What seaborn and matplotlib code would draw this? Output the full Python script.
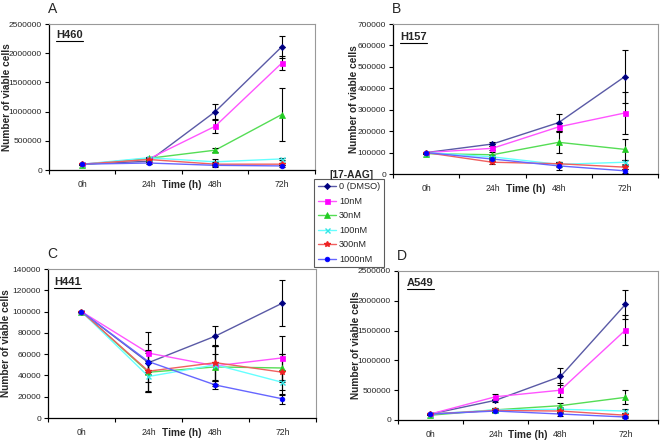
import numpy as np
import pandas as pd
import matplotlib
matplotlib.use("Agg")
import matplotlib.pyplot as plt
import seaborn as sns
from matplotlib.ticker import FixedLocator, FuncFormatter
from matplotlib.lines import Line2D

sns.set_style("white")
plt.rcParams['font.family'] = ['Liberation Sans', 'DejaVu Sans']

times = ["0h", "24h", "48h", "72h"]
series = ["0 (DMSO)", "10nM", "30nM", "100nM", "300nM", "1000nM"]

# Panel A: H460
h460_dmso = [100000, 150000, 1000000, 2110000]
h460_10 = [100000, 190000, 750000, 1830000]
h460_30 = [90000, 200000, 340000, 950000]
h460_100 = [100000, 210000, 140000, 190000]
h460_300 = [100000, 180000, 100000, 100000]
h460_1000 = [100000, 120000, 80000, 70000]
h460_err_dmso = [0, 20000, 130000, 190000]
h460_err_10 = [0, 20000, 110000, 120000]
h460_err_30 = [0, 20000, 40000, 460000]
h460_err_100 = [0, 20000, 50000, 20000]
h460_err_300 = [0, 20000, 30000, 20000]
h460_err_1000 = [0, 20000, 30000, 20000]

# Panel B: H157
h157_dmso = [100000, 140000, 240000, 455000]
h157_10 = [100000, 120000, 220000, 285000]
h157_30 = [95000, 90000, 148000, 115000]
h157_100 = [100000, 80000, 45000, 55000]
h157_300 = [100000, 55000, 48000, 32000]
h157_1000 = [100000, 70000, 38000, 15000]
h157_err_dmso = [0, 10000, 40000, 125000]
h157_err_10 = [0, 10000, 20000, 100000]
h157_err_30 = [0, 15000, 50000, 50000]
h157_err_100 = [0, 10000, 10000, 10000]
h157_err_300 = [0, 10000, 10000, 10000]
h157_err_1000 = [0, 10000, 20000, 10000]

# Panel C: H441
h441_dmso = [100000, 52000, 77000, 108000]
h441_10 = [100000, 61000, 49000, 56500]
h441_30 = [100000, 43000, 48000, 47000]
h441_100 = [100000, 39000, 50000, 33500]
h441_300 = [100000, 44000, 52000, 43000]
h441_1000 = [100000, 53000, 31000, 18000]
h441_err_dmso = [0, 18000, 9000, 22000]
h441_err_10 = [0, 20000, 19000, 21000]
h441_err_30 = [0, 18000, 12000, 13000]
h441_err_100 = [0, 15000, 18000, 12000]
h441_err_300 = [0, 20000, 17000, 17000]
h441_err_1000 = [0, 10000, 4000, 5000]

# Panel D: A549
a549_dmso = [100000, 330000, 730000, 1940000]
a549_10 = [100000, 390000, 500000, 1510000]
a549_30 = [80000, 170000, 240000, 380000]
a549_100 = [100000, 170000, 180000, 150000]
a549_300 = [100000, 160000, 150000, 80000]
a549_1000 = [100000, 150000, 100000, 50000]
a549_err_dmso = [0, 30000, 150000, 240000]
a549_err_10 = [0, 50000, 120000, 250000]
a549_err_30 = [0, 30000, 40000, 120000]
a549_err_100 = [0, 30000, 40000, 30000]
a549_err_300 = [0, 30000, 30000, 30000]
a549_err_1000 = [0, 20000, 30000, 20000]

panels = [
    ("A", "H460", [h460_dmso, h460_10, h460_30, h460_100, h460_300, h460_1000],
     [h460_err_dmso, h460_err_10, h460_err_30, h460_err_100, h460_err_300, h460_err_1000],
     2500000, 500000, [0.0741, 0.6136, 0.4024, 0.3318], -0.139, (0.026, 0.925)),
    ("B", "H157", [h157_dmso, h157_10, h157_30, h157_100, h157_300, h157_1000],
     [h157_err_dmso, h157_err_10, h157_err_30, h157_err_100, h157_err_300, h157_err_1000],
     700000, 100000, [0.5946, 0.6045, 0.4009, 0.3409], -0.128, (0.026, 0.913)),
    ("C", "H441", [h441_dmso, h441_10, h441_30, h441_100, h441_300, h441_1000],
     [h441_err_dmso, h441_err_10, h441_err_30, h441_err_100, h441_err_300, h441_err_1000],
     140000, 20000, [0.0726, 0.05, 0.4054, 0.3386], -0.138, (0.024, 0.913)),
    ("D", "A549", [a549_dmso, a549_10, a549_30, a549_100, a549_300, a549_1000],
     [a549_err_dmso, a549_err_10, a549_err_30, a549_err_100, a549_err_300, a549_err_1000],
     2500000, 500000, [0.6021, 0.0455, 0.3933, 0.3386], -0.142, (0.035, 0.92)),
]

palette = {"0 (DMSO)": "#000080", "10nM": "#FF00FF", "30nM": "#22CC22",
           "100nM": "#33E5E5", "300nM": "#EE2222", "1000nM": "#0000FF"}
line_palette = {"0 (DMSO)": "#5a5aa6", "10nM": "#ff55ff", "30nM": "#55dd55",
                "100nM": "#66ffff", "300nM": "#f06060", "1000nM": "#6666ff"}
markers = {"0 (DMSO)": "D", "10nM": "s", "30nM": "^", "100nM": "x",
           "300nM": "*", "1000nM": "o"}
msizes = {"0 (DMSO)": 3.2, "10nM": 3.6, "30nM": 3.8, "100nM": 3.6,
          "300nM": 4.2, "1000nM": 3.4}

fig = plt.figure(figsize=(6.61, 4.40), dpi=100)

for letter, cell, vals, errs, ymax, ystep, pos, ylx, cellpos in panels:
    ax = fig.add_axes(pos)
    rows = []
    for s, v in zip(series, vals):
        for t, y in zip(times, v):
            rows.append({"time": t, "cells": y, "conc": s})
    df = pd.DataFrame(rows)
    sns.lineplot(data=df, x="time", y="cells", hue="conc", palette=line_palette,
                 sort=False, linewidth=1.0, legend=False, ax=ax, zorder=2)
    for s, v, e in zip(series, vals, errs):
        ax.errorbar(times, v, yerr=e, fmt="none", ecolor="black", elinewidth=0.8,
                    capsize=2.3, capthick=0.8, zorder=3)
        ax.plot(times, v, linestyle="none", marker=markers[s], color=palette[s],
                markersize=msizes[s], markeredgewidth=1.0 if s in ("100nM", "300nM") else 0.5,
                markeredgecolor=palette[s], zorder=4)
    ax.set_xlim(-0.5, 3.5)
    ax.set_ylim(0, ymax)
    ax.yaxis.set_major_locator(FixedLocator(np.arange(0, ymax + 1, ystep)))
    ax.yaxis.set_major_formatter(FuncFormatter(lambda v, p: f"{int(round(v))}"))
    ax.xaxis.set_minor_locator(FixedLocator([-0.5, 0.5, 1.5, 2.5, 3.5]))
    ax.tick_params(axis="x", which="major", length=0, labelsize=6.2, pad=7)
    ax.tick_params(axis="x", which="minor", length=3, width=0.8, direction="out",
                   color="black", bottom=True)
    ax.tick_params(axis="y", which="major", length=3, width=0.8, direction="out",
                   labelsize=6.0, pad=2, color="black", left=True)
    for sp in ["left", "bottom"]:
        ax.spines[sp].set_color("black")
        ax.spines[sp].set_linewidth(0.9)
    for sp in ["top", "right"]:
        ax.spines[sp].set_color("#999999")
        ax.spines[sp].set_linewidth(0.8)
    ax.set_xlabel("")
    ax.set_ylabel("Number of viable cells", fontsize=7.3, fontweight="bold")
    ax.yaxis.set_label_coords(ylx, 0.5)
    ax.text(0.5, -0.1, "Time (h)", transform=ax.transAxes, ha="center", va="center",
            fontsize=7.3, fontweight="bold")
    tx = ax.text(cellpos[0], cellpos[1], cell, transform=ax.transAxes, ha="left",
                 va="center", fontsize=8, fontweight="bold")
    fig.canvas.draw()
    bb = tx.get_window_extent().transformed(ax.transAxes.inverted())
    ax.plot([bb.x0, bb.x1], [bb.y0 - 0.008, bb.y0 - 0.008], color="black",
            linewidth=0.8, transform=ax.transAxes, clip_on=False)
    fig.text(pos[0] - 0.001, pos[1] + pos[3] + 0.035, letter, fontsize=10,
             ha="left", va="center")

# legend
handles = [Line2D([0], [0], color=line_palette[s], linewidth=1.0, marker=markers[s],
                  markersize=msizes[s], markerfacecolor=palette[s],
                  markeredgecolor=palette[s],
                  markeredgewidth=1.0 if s in ("100nM", "300nM") else 0.5)
           for s in series]
leg = fig.legend(handles, series, loc="center", bbox_to_anchor=(0.481, 0.402, 0.094, 0.182),
                 frameon=True, fontsize=6.6, handlelength=2.0, handletextpad=0.3,
                 borderpad=0.4, labelspacing=0.6, borderaxespad=0)
leg.get_frame().set_edgecolor("#333333")
leg.get_frame().set_linewidth(0.8)
leg.get_frame().set_boxstyle("square", pad=0)
fig.text(0.532, 0.603, "[17-AAG]", fontsize=7.3, fontweight="bold", ha="center", va="center")

fig.savefig("out.png", dpi=100)
